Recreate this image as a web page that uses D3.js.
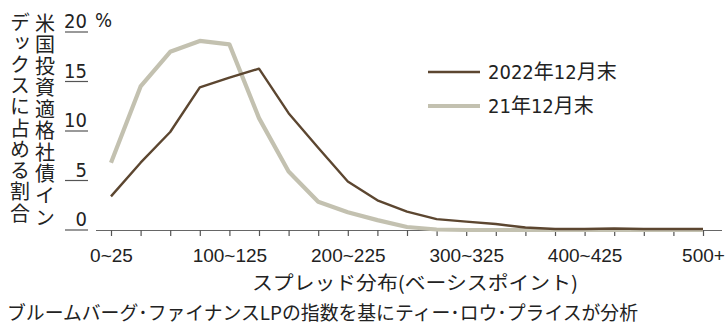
<!DOCTYPE html>
<html>
<head>
<meta charset="utf-8">
<script src="https://cdn.jsdelivr.net/npm/d3@7"></script>
<style>
  body { margin: 0; background: #fff; }
  svg text { font-family: "Liberation Sans Narrow", "DejaVu Sans Condensed", "Noto Sans CJK JP", sans-serif; fill: #222; }
  .jp { font-family: "Noto Sans CJK JP", sans-serif; }
</style>
</head>
<body>
<svg width="725" height="327"></svg>
<script>
// spread buckets (basis points)
const categories = ["0~25","25~50","50~75","75~100","100~125","125~150","150~175","175~200",
  "200~225","225~250","250~275","275~300","300~325","325~350","350~375","375~400",
  "400~425","425~450","450~475","475~500","500+"];
const labelled = ["0~25","100~125","200~225","300~325","400~425","500+"];
const yTicks = [0, 5, 10, 15, 20];

// share of index (%)
const dec2022 = [3.4, 6.8, 9.9, 14.4, 15.4, 16.3, 11.8, 8.3, 4.9, 3.0, 1.85, 1.1, 0.85,
  0.6, 0.25, 0.1, 0.1, 0.15, 0.1, 0.1, 0.1];
const dec2021 = [6.8, 14.5, 18.0, 19.1, 18.75, 11.3, 5.9, 2.85, 1.8, 1.0, 0.3, 0.05, 0,
  0, 0, 0, 0, 0, 0, 0, 0];

const series = [
  {name: "2022年12月末", values: dec2022, color: "#5c4630", width: 2.4},
  {name: "21年12月末", values: dec2021, color: "#c3c1b0", width: 4.2}
];

const svg = d3.select("svg");

const x = d3.scalePoint().domain(categories).range([111, 703]);
const y = d3.scaleLinear().domain([0, 20]).range([230, 32]);

// x axis
const xAxis = svg.append("g").attr("transform", "translate(0,230)")
  .call(d3.axisBottom(x).tickSize(6).tickFormat(d => labelled.includes(d) ? d : ""));
xAxis.select(".domain").attr("d", "M96,0.5H722").attr("stroke", "#666").attr("stroke-width", 1.2);
xAxis.selectAll(".tick line").attr("stroke", "#555").attr("stroke-width", 1.2);
xAxis.selectAll(".tick text")
  .attr("y", 32).attr("dy", 0).attr("font-size", 19)
  .style("font-family", "\"Liberation Sans Narrow\", sans-serif")
  .attr("fill", "#222");

// y axis: short underlines with labels sitting on them
const yAxis = svg.append("g");
yAxis.selectAll("line").data(yTicks).join("line")
  .attr("x1", 65).attr("x2", 88)
  .attr("y1", d => y(d)).attr("y2", d => y(d))
  .attr("stroke", "#555").attr("stroke-width", 1.2);
yAxis.selectAll("text").data(yTicks).join("text")
  .attr("x", 87).attr("y", d => y(d) - 4)
  .attr("text-anchor", "end").attr("font-size", 20)
  .text(d => d);
svg.append("text").attr("x", 95).attr("y", 27).attr("font-size", 20).text("%");

// lines, light one underneath
const line = d3.line().x((d, i) => x(categories[i])).y(d => y(d));
svg.selectAll(".series").data(series.slice().reverse()).join("path")
  .attr("class", "series")
  .attr("fill", "none")
  .attr("stroke", d => d.color)
  .attr("stroke-width", d => d.width)
  .attr("stroke-linejoin", "round")
  .attr("d", d => line(d.values));

// legend
const legend = svg.append("g");
series.forEach((s, i) => {
  const ly = 72 + i * 34;
  legend.append("line").attr("x1", 428).attr("x2", 480).attr("y1", ly).attr("y2", ly)
    .attr("stroke", s.color).attr("stroke-width", s.width);
  legend.append("text").attr("x", 488).attr("y", ly + 7).attr("font-size", 20).text(s.name);
});

// vertical y title (two columns)
svg.append("text").attr("class", "jp")
  .attr("x", 45).attr("y", 13)
  .style("writing-mode", "vertical-rl")
  .attr("font-size", 20)
  .attr("textLength", 214).attr("lengthAdjust", "spacing")
  .text("米国投資適格社債イン");
svg.append("text").attr("class", "jp")
  .attr("x", 20).attr("y", 12)
  .style("writing-mode", "vertical-rl")
  .attr("font-size", 20)
  .attr("textLength", 211).attr("lengthAdjust", "spacing")
  .text("デックスに占める割合");

// x title
svg.append("text").attr("class", "jp")
  .attr("x", 252).attr("y", 290).attr("font-size", 19)
  .attr("textLength", 326).attr("lengthAdjust", "spacingAndGlyphs")
  .text("スプレッド分布(ベーシスポイント)");

// source note
svg.append("text").attr("class", "jp")
  .attr("x", 7).attr("y", 320).attr("font-size", 19)
  .attr("textLength", 631).attr("lengthAdjust", "spacingAndGlyphs")
  .text("ブルームバーグ･ファイナンスLPの指数を基にティー･ロウ･プライスが分析");
</script>
</body>
</html>
